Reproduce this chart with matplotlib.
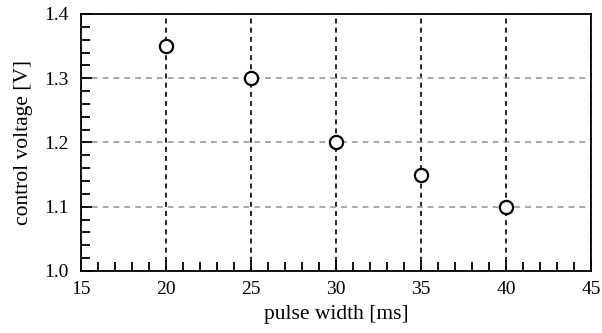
import numpy as np
import matplotlib.pyplot as plt
from matplotlib.ticker import MultipleLocator

# data
pulse_width = [20, 25, 30, 35, 40]
control_voltage = [1.35, 1.30, 1.20, 1.15, 1.10]

plt.rcParams['font.family'] = 'Liberation Serif'
plt.rcParams['font.size'] = 14

fig = plt.figure(figsize=(6.02, 3.33), dpi=100)
ax = fig.add_axes([0.1346, 0.1862, 0.8471, 0.7718])

ax.plot(pulse_width, control_voltage, linestyle='none', marker='o',
        markersize=9.5, markerfacecolor='white', markeredgecolor='black',
        markeredgewidth=1.6, zorder=5)

ax.set_xlim(15, 45)
ax.set_ylim(1.0, 1.4)
ax.xaxis.set_major_locator(MultipleLocator(5))
ax.xaxis.set_minor_locator(MultipleLocator(1))
ax.yaxis.set_major_locator(MultipleLocator(0.1))
ax.yaxis.set_minor_locator(MultipleLocator(0.02))
ax.yaxis.set_major_formatter(plt.FormatStrFormatter('%.1f'))

ax.tick_params(which='both', direction='in', top=False, right=False, width=1.3)
ax.tick_params(which='major', length=8)
ax.tick_params(which='minor', length=6.5)
ax.tick_params(axis='y', which='major', pad=9)
ax.tick_params(axis='x', which='major', pad=7)

ax.grid(True, axis='x', color='black', linestyle=(0, (3, 2.5)), linewidth=1.2)
ax.grid(True, axis='y', color='#999999', linestyle=(0, (3.5, 3)), linewidth=1.2)

for s in ax.spines.values():
    s.set_linewidth(1.3)

ax.set_xlabel('pulse width [ms]', fontsize=15.5, labelpad=5)
ax.set_ylabel('control voltage [V]', fontsize=15.5, labelpad=8)

fig.savefig('out.png', dpi=100)
